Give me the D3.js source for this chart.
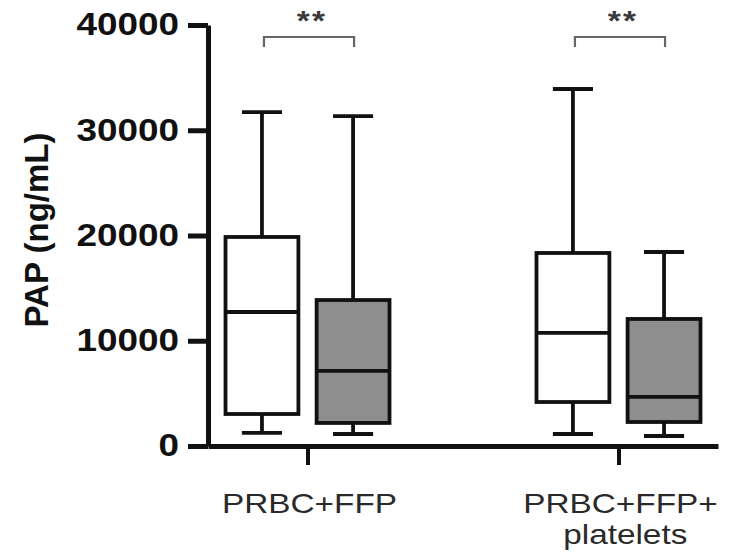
<!DOCTYPE html>
<html>
<head>
<meta charset="utf-8">
<script src="https://cdn.jsdelivr.net/npm/d3@7"></script>
<style>
  html, body { margin: 0; padding: 0; background: #fff; }
  svg { display: block; }
</style>
</head>
<body>
<svg id="chart" width="744" height="553"></svg>
<script>
// chart values
const categories = ['PRBC+FFP', 'PRBC+FFP+platelets']
const categoryLines = [['PRBC+FFP'], ['PRBC+FFP+', 'platelets']]
const series = ['open', 'shaded']
const seriesFill = ['#ffffff', '#8e8e8e']

// [category][series]
const whiskerLow = [[1240, 1140], [1140, 950]]
const quartile1 = [[3040, 2190], [4180, 2280]]
const medians = [[12730, 7130], [10740, 4660]]
const quartile3 = [[19860, 13870], [18340, 12070]]
const whiskerHigh = [[31730, 31350], [33920, 18430]]

const yTicks = [0, 10000, 20000, 30000, 40000]
const significance = ['**', '**']

// the source figure is a bit stretched sideways, text too
const stretch = 1.19

const svg = d3.select('#chart')

var y = d3.scaleLinear().domain([0, 40000]).range([446, 25])
var x = d3.scalePoint().domain(categories).range([208, 718]).padding(0.32)
var inner = d3.scaleBand().domain(series).range([-82, 82]).paddingInner(0.2)
var bw = inner.bandwidth()
var capW = bw * 0.55

// y axis
var yAxis = svg.append('g')
  .attr('transform', 'translate(208,0)')
  .call(d3.axisLeft(y).tickValues(yTicks).tickFormat(d3.format('d'))
    .tickSize(20).tickSizeOuter(0).tickPadding(9))

yAxis.select('.domain').attr('stroke', '#111').attr('stroke-width', 5)
yAxis.selectAll('.tick line').attr('stroke', '#111').attr('stroke-width', 5)
yAxis.selectAll('.tick text')
  .attr('fill', '#111')
  .attr('x', -29 / stretch)
  .attr('transform', 'scale(' + stretch + ',1)')
  .style('font-family', '"Liberation Sans", Arial, sans-serif')
  .style('font-weight', 'bold')
  .style('font-size', '31px')

// x axis
var xAxis = svg.append('g')
  .attr('transform', 'translate(0,' + y(0) + ')')
  .call(d3.axisBottom(x).tickSize(19).tickSizeOuter(0).tickFormat(''))

xAxis.select('.domain').attr('stroke', '#111').attr('stroke-width', 5)
xAxis.selectAll('.tick line').attr('stroke', '#111').attr('stroke-width', 4)

// category labels
categories.forEach(function (cat, i) {
  var t = svg.append('text')
    .attr('transform', 'translate(' + (x(cat) + 2) + ',513) scale(' + stretch + ',1)')
    .attr('text-anchor', 'middle')
    .attr('fill', '#2a2a2a')
    .style('font-family', '"Liberation Sans", Arial, sans-serif')
    .style('font-size', '28px')

  categoryLines[i].forEach(function (line, j) {
    t.append('tspan')
      .attr('x', j > 0 ? 4 : 0)
      .attr('dy', j === 0 ? 0 : 31)
      .text(line)
  })
})

// y axis title
svg.append('text')
  .attr('transform', 'translate(48,230) rotate(-90)')
  .attr('text-anchor', 'middle')
  .attr('fill', '#111')
  .style('font-family', '"Liberation Sans", Arial, sans-serif')
  .style('font-weight', 'bold')
  .style('font-size', '33px')
  .text('PAP (ng/mL)')

// boxes
categories.forEach(function (cat, ci) {
  series.forEach(function (s, si) {
    var cx = x(cat) + inner(s) + bw / 2
    var g = svg.append('g')
      .attr('stroke', '#111')
      .attr('stroke-width', 3.8)

    // whiskers
    g.append('line')
      .attr('x1', cx).attr('x2', cx)
      .attr('y1', y(whiskerHigh[ci][si])).attr('y2', y(quartile3[ci][si]))
    g.append('line')
      .attr('x1', cx).attr('x2', cx)
      .attr('y1', y(quartile1[ci][si])).attr('y2', y(whiskerLow[ci][si]))
    g.append('line')
      .attr('x1', cx - capW / 2).attr('x2', cx + capW / 2)
      .attr('y1', y(whiskerHigh[ci][si])).attr('y2', y(whiskerHigh[ci][si]))
    g.append('line')
      .attr('x1', cx - capW / 2).attr('x2', cx + capW / 2)
      .attr('y1', y(whiskerLow[ci][si])).attr('y2', y(whiskerLow[ci][si]))

    // box
    g.append('rect')
      .attr('x', cx - bw / 2)
      .attr('y', y(quartile3[ci][si]))
      .attr('width', bw)
      .attr('height', y(quartile1[ci][si]) - y(quartile3[ci][si]))
      .attr('fill', seriesFill[si])

    // median
    g.append('line')
      .attr('x1', cx - bw / 2).attr('x2', cx + bw / 2)
      .attr('y1', y(medians[ci][si])).attr('y2', y(medians[ci][si]))
  })

  // significance bracket
  var x0 = x(cat) + inner(series[0]) + bw / 2 + 2
  var x1 = x(cat) + inner(series[1]) + bw / 2 + 1
  svg.append('path')
    .attr('d', 'M' + x0 + ',47V37H' + x1 + 'V47')
    .attr('fill', 'none')
    .attr('stroke', '#666')
    .attr('stroke-width', 2.2)

  svg.append('text')
    .attr('transform', 'translate(' + ((x0 + x1) / 2 + 3) + ',30) scale(' + stretch + ',1)')
    .attr('text-anchor', 'middle')
    .attr('fill', '#3a3a3a')
    .style('font-family', '"Liberation Sans", Arial, sans-serif')
    .style('font-weight', 'bold')
    .style('font-size', '28px')
    .style('letter-spacing', '2px')
    .text(significance[ci])
})
</script>
</body>
</html>
